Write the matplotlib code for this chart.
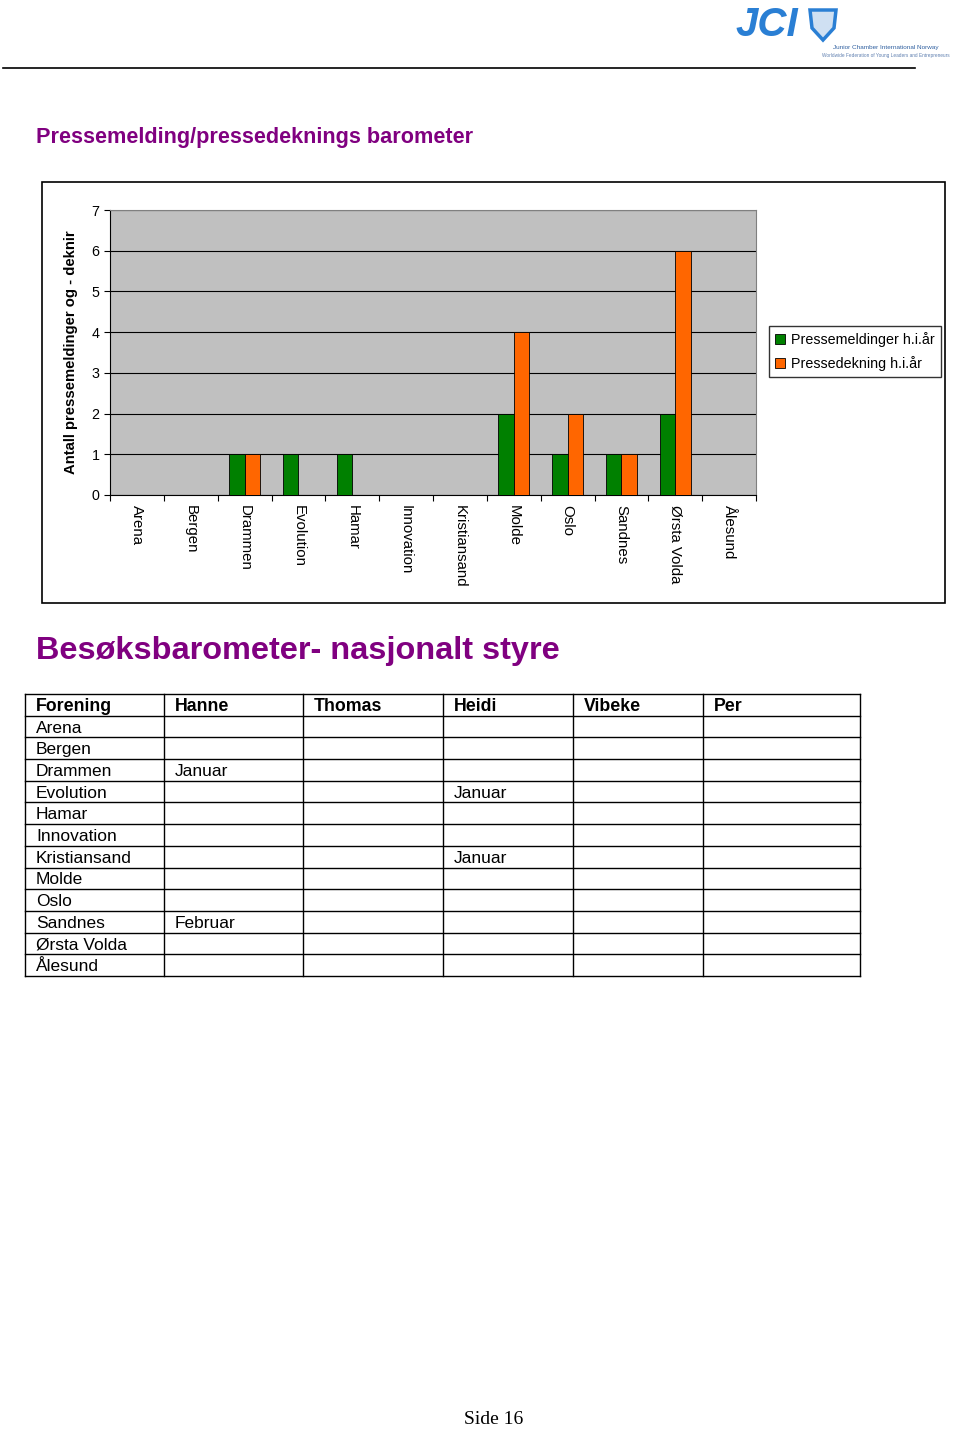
import matplotlib.pyplot as plt
import numpy as np

plt.rcParams['font.family'] = ['Liberation Sans', 'DejaVu Sans']

foreninger = ['Arena', 'Bergen', 'Drammen', 'Evolution', 'Hamar', 'Innovation',
              'Kristiansand', 'Molde', 'Oslo', 'Sandnes', 'Ørsta Volda', 'Ålesund']
pressemeldinger = [0, 0, 1, 1, 1, 0, 0, 2, 1, 1, 2, 0]
pressedekning = [0, 0, 1, 0, 0, 0, 0, 4, 2, 1, 6, 0]

tabell_kolonner = ['Forening', 'Hanne', 'Thomas', 'Heidi', 'Vibeke', 'Per']
besok = {
    'Drammen': {'Hanne': 'Januar'},
    'Evolution': {'Heidi': 'Januar'},
    'Kristiansand': {'Heidi': 'Januar'},
    'Sandnes': {'Hanne': 'Februar'},
}

W, H = 960, 1430
fig = plt.figure(figsize=(W / 100, H / 100), dpi=100)
purple = '#800080'

# page overlay in pixel coordinates
page = fig.add_axes([0, 0, 1, 1])
page.set_xlim(0, W)
page.set_ylim(H, 0)
page.axis('off')

# header
page.plot([3, 915], [68, 68], color='black', lw=1.2)
page.text(736, 25, 'JCI', color='#2a7fd4', fontsize=29, fontweight='bold',
          fontstyle='italic', va='center', ha='left')
shield = plt.Polygon([(810, 10), (836, 10), (834, 28), (823, 40), (812, 28)],
                     closed=True, fc='#cfe0f2', ec='#2a7fd4', lw=2.5)
page.add_patch(shield)
page.text(886, 48, 'Junior Chamber International Norway', color='#3060a0',
          fontsize=4.6, ha='center', va='center')
page.text(886, 55, 'Worldwide Federation of Young Leaders and Entrepreneurs',
          color='#6080b0', fontsize=3.4, ha='center', va='center')

page.text(36, 137, 'Pressemelding/pressedeknings barometer', color=purple,
          fontsize=15.6, fontweight='bold', va='center')

# chart outer box
page.add_patch(plt.Rectangle((42, 182), 903, 421, fill=False, ec='black', lw=1.2))

# bar chart
ax = fig.add_axes([110 / W, 1 - 495 / H, 646 / W, 285 / H])
ax.set_facecolor('#c0c0c0')
x = np.arange(len(foreninger))
bw = 0.29
ax.bar(x - bw / 2, pressemeldinger, bw, color='#008000', ec='black', lw=0.6,
       label='Pressemeldinger h.i.år', zorder=3)
ax.bar(x + bw / 2, pressedekning, bw, color='#ff6600', ec='black', lw=0.6,
       label='Pressedekning h.i.år', zorder=3)
ax.set_xlim(-0.5, len(foreninger) - 0.5)
ax.set_ylim(0, 7)
ax.set_yticks(range(8))
ax.yaxis.grid(True, color='black', lw=0.8, zorder=0)
ax.set_xticks(np.arange(len(foreninger) + 1) - 0.5, minor=False)
ax.set_xticklabels([])
ax.set_xticks(x, minor=True)
ax.set_xticklabels(foreninger, minor=True, rotation=270, fontsize=10.8)
ax.tick_params(axis='x', which='minor', length=0, pad=7)
ax.tick_params(axis='x', which='major', length=4, direction='out')
ax.tick_params(axis='y', labelsize=10.3, length=4)
for s in ['top', 'right']:
    ax.spines[s].set_color('#808080')
ax.spines['left'].set_color('black')
ax.spines['bottom'].set_color('black')
ax.set_ylabel('Antall pressemeldinger og - deknir', fontsize=10.7,
              fontweight='bold', labelpad=10)

leg = fig.legend(loc='upper left', bbox_to_anchor=(769 / W, 1 - 326 / H),
                 fontsize=10.3, frameon=True, fancybox=False, edgecolor='black',
                 handlelength=0.7, handleheight=0.7, handletextpad=0.4,
                 borderpad=0.45, labelspacing=0.6, borderaxespad=0)
leg.get_frame().set_linewidth(1.0)

# second section
page.text(36, 651, 'Besøksbarometer- nasjonalt styre', color=purple,
          fontsize=23.4, fontweight='bold', va='center')

col_x = [25, 164, 303, 443, 573, 703, 860]
top, bottom = 694, 976
nrows = len(foreninger) + 1
rh = (bottom - top) / nrows
for cx in col_x:
    page.plot([cx, cx], [top, bottom], color='black', lw=1.0)
for i in range(nrows + 1):
    page.plot([col_x[0], col_x[-1]], [top + i * rh] * 2, color='black', lw=1.0)

for j, name in enumerate(tabell_kolonner):
    page.text(col_x[j] + 11, top + rh / 2 + 1.5, name, fontsize=12.8,
              fontweight='bold', va='center')
for i, f in enumerate(foreninger):
    yy = top + (i + 1.5) * rh + 1.5
    page.text(col_x[0] + 11, yy, f, fontsize=12.5, va='center')
    for j, name in enumerate(tabell_kolonner[1:], start=1):
        v = besok.get(f, {}).get(name, '')
        if v:
            page.text(col_x[j] + 11, yy, v, fontsize=12.5, va='center')

page.text(494, 1420, 'Side 16', family='Liberation Serif', fontsize=14,
          ha='center', va='center')

fig.savefig('out.png', dpi=100)
